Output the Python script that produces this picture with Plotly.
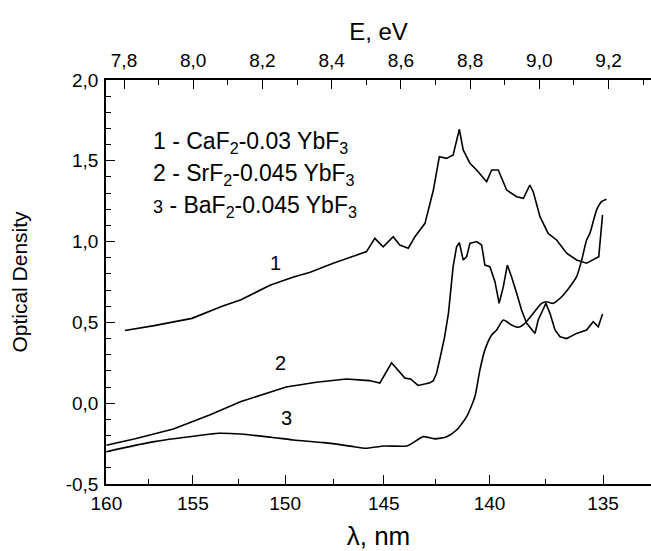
import plotly.graph_objects as go

HC = 1239.84  # eV*nm

# Curve 1: CaF2-0.03 YbF3
lam1 = [158.9, 157.2, 155.05, 153.38, 152.35, 150.8, 149.6, 148.7, 147.52, 145.85, 145.44, 145.03,
        144.54, 144.22, 143.81, 143.49, 143.01, 142.61, 142.33, 141.99, 141.68, 141.39, 141.21,
        140.90, 140.59, 140.13, 139.90, 139.60, 139.22, 138.77, 138.47, 138.18, 138.03, 137.73,
        137.37, 137.00, 136.56, 136.13, 135.70, 135.27, 135.18, 135.02]
od1 = [0.45, 0.48, 0.525, 0.60, 0.64, 0.73, 0.78, 0.81, 0.866, 0.938, 1.02, 0.968,
       1.03, 0.979, 0.959, 1.03, 1.113, 1.319, 1.525, 1.515, 1.536, 1.695, 1.567,
       1.485, 1.443, 1.371, 1.443, 1.443, 1.319, 1.278, 1.268, 1.350, 1.309, 1.154,
       1.051, 1.010, 0.928, 0.886, 0.866, 0.897, 0.907, 1.165]

# Curve 2: SrF2-0.045 YbF3
lam2 = [160.0, 158.3, 156.1, 154.0, 152.35, 150.74, 149.95, 148.38, 146.85, 145.72, 145.19,
        144.62, 144.24, 143.97, 143.70, 143.34, 142.97, 142.77, 142.61, 142.46, 142.26, 142.08,
        141.90, 141.68, 141.52, 141.39, 141.21, 141.05, 140.90, 140.59, 140.36, 140.21, 139.98,
        139.75, 139.56, 139.37, 139.19, 139.00, 138.77, 138.55, 138.32, 138.10, 137.95, 137.81,
        137.59, 137.47, 137.29, 137.07, 136.85, 136.56, 136.13, 135.70, 135.42, 135.20, 135.02]
od2 = [-0.26, -0.22, -0.16, -0.07, 0.01, 0.07, 0.10, 0.13, 0.15, 0.14, 0.125,
       0.25, 0.195, 0.155, 0.15, 0.11, 0.12, 0.127, 0.14, 0.185, 0.30, 0.41,
       0.556, 0.845, 0.968, 0.993, 0.886, 0.907, 0.989, 1.0, 0.979, 0.855, 0.845,
       0.752, 0.618, 0.721, 0.855, 0.783, 0.68, 0.577, 0.494, 0.453, 0.432, 0.515,
       0.577, 0.618, 0.556, 0.453, 0.411, 0.40, 0.432, 0.453, 0.504, 0.473, 0.552]

# Curve 3: BaF2-0.045 YbF3
lam3 = [160.0, 157.19, 154.0, 153.59, 152.35, 150.74, 149.55, 147.99, 146.47, 145.91, 144.98,
        143.88, 143.57, 143.09, 142.54, 141.98, 141.52, 141.05, 140.67, 140.44, 140.21, 139.90,
        139.67, 139.37, 139.00, 138.70, 138.40, 138.03, 137.66, 137.44, 137.15, 136.78, 136.42,
        136.13, 135.91, 135.70, 135.56, 135.27, 135.06, 134.85]
od3 = [-0.30, -0.238, -0.191, -0.186, -0.191, -0.211, -0.228, -0.244, -0.269, -0.279, -0.265,
       -0.265, -0.244, -0.207, -0.221, -0.207, -0.166, -0.083, 0.040, 0.205, 0.33, 0.422,
       0.453, 0.515, 0.484, 0.470, 0.494, 0.556, 0.618, 0.628, 0.618, 0.659, 0.721,
       0.783, 0.886, 1.010, 1.051, 1.196, 1.247, 1.262]

lam_ticks = [160, 155, 150, 145, 140, 135]
lam_minor = [157.5, 152.5, 147.5, 142.5, 137.5]
e_ticks = [7.8, 8.0, 8.2, 8.4, 8.6, 8.8, 9.0, 9.2]
y_ticks = [-0.5, 0.0, 0.5, 1.0, 1.5, 2.0]
y_labels = ["-0,5", "0,0", "0,5", "1,0", "1,5", "2,0"]

legend_lines = ["1 - CaF<sub>2</sub>-0.03 YbF<sub>3</sub>",
                "2 - SrF<sub>2</sub>-0.045 YbF<sub>3</sub>",
                "<span style='font-size:18px'>3</span> - BaF<sub>2</sub>-0.045 YbF<sub>3</sub>"]
curve_labels = ["1", "2", "3"]
label_lam = [150.5, 150.25, 149.95]
label_od = [0.866, 0.247, -0.094]

FONT = "Liberation Sans, Arial, Helvetica, sans-serif"

def to_e(lams):
    return [HC / v for v in lams]

fig = go.Figure()
for lam, od in [(lam1, od1), (lam2, od2)]:
    fig.add_trace(go.Scatter(x=to_e(lam), y=od, mode="lines",
                             line=dict(color="black", width=1.6), showlegend=False,
                             hoverinfo="skip"))
fig.add_trace(go.Scatter(x=to_e(lam3), y=od3, mode="lines",
                         line=dict(color="black", width=1.6, shape="spline", smoothing=0.6),
                         showlegend=False, hoverinfo="skip"))
# invisible trace to activate top axis
fig.add_trace(go.Scatter(x=[e_ticks[0]], y=[y_ticks[0]], xaxis="x2", mode="markers",
                         marker=dict(opacity=0), showlegend=False, hoverinfo="skip"))

x_lo = 7.748
x_hi = x_lo + 545 / 346.1

axis_common = dict(showline=True, linecolor="black", linewidth=1.5, ticks="inside",
                   tickcolor="black", tickwidth=1.3, ticklen=9, showgrid=False,
                   zeroline=False, tickfont=dict(family=FONT, size=19, color="black"))

fig.update_layout(
    width=651, height=551,
    margin=dict(l=106, r=0, t=80, b=67),
    paper_bgcolor="white", plot_bgcolor="white",
    font=dict(family=FONT, color="black"),
    xaxis=dict(range=[x_lo, x_hi], tickmode="array", tickvals=to_e(lam_ticks),
               ticktext=[str(v) for v in lam_ticks], ticklabelstandoff=1,
               minor=dict(tickmode="array", tickvals=to_e(lam_minor), ticks="inside",
                          ticklen=5, tickcolor="black", tickwidth=1.3),
               title=dict(text="λ, nm", font=dict(family=FONT, size=26), standoff=18),
               **axis_common),
    xaxis2=dict(range=[x_lo, x_hi], overlaying="x", side="top", anchor="y",
                tickmode="array", tickvals=e_ticks, ticklabelstandoff=4,
                ticktext=[f"{v:.1f}".replace(".", ",") for v in e_ticks],
                minor=dict(tick0=7.7, dtick=0.1, ticks="inside", ticklen=5,
                           tickcolor="black", tickwidth=1.3),
                title=dict(text="E, eV", font=dict(family=FONT, size=24), standoff=2),
                **axis_common),
    yaxis=dict(range=[-0.5, 2.0], tickmode="array", tickvals=y_ticks, ticktext=y_labels,
               ticklabelstandoff=2,
               minor=dict(tick0=0, dtick=0.1, ticks="inside", ticklen=5,
                          tickcolor="black", tickwidth=1.3),
               title=dict(text="Optical Density", font=dict(family=FONT, size=21), standoff=32),
               **axis_common),
)

for i, txt in enumerate(legend_lines):
    fig.add_annotation(text=txt, xref="paper", yref="paper", x=(151 - 106) / 545,
                       y=(484 - [142, 174, 206][i]) / 404, xanchor="left", yanchor="middle",
                       showarrow=False, font=dict(family=FONT, size=23, color="black"))

for t, l, o in zip(curve_labels, label_lam, label_od):
    fig.add_annotation(text=t, x=HC / l, y=o, xref="x", yref="y", showarrow=False,
                       font=dict(family=FONT, size=20, color="black"))

fig.write_html("out.html", config={"displayModeBar": False},
               post_script="document.body.style.margin='0';document.body.style.overflow='hidden';")
